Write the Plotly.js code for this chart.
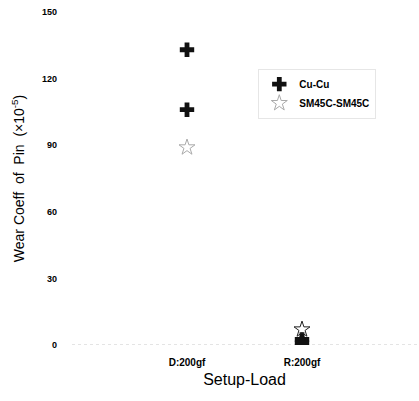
<!DOCTYPE html>
<html><head><meta charset="utf-8">
<script src="https://cdn.plot.ly/plotly-3.0.1.min.js"></script>
<style>body{margin:0;background:#fff}#c{width:419px;height:401px}</style>
</head><body><div id="c"></div>
<script>
const categories = ['D:200gf', 'R:200gf'];
const cuX = ['D:200gf', 'D:200gf', 'R:200gf', 'R:200gf'];
const cuY = [133, 106, 2.5, 1];
const smX = ['D:200gf', 'R:200gf'];
const smY = [89, 7];
const yTicks = [0, 30, 60, 90, 120, 150];

const traces = [
  {x: cuX, y: cuY, type: 'scatter', mode: 'markers', name: 'Cu-Cu',
   marker: {symbol: 'cross', size: 12, color: '#111', line: {width: 0}}},
  {x: smX, y: smY, type: 'scatter', mode: 'markers', name: 'SM45C-SM45C',
   marker: {symbol: 'star-open', size: 12, color: ['#aaa', '#222'], line: {width: 1, color: ['#aaa', '#222']}}}
];

const layout = {
  width: 419, height: 401,
  margin: {l: 72, r: 2, t: 12, b: 56},
  paper_bgcolor: '#fff', plot_bgcolor: '#fff',
  font: {family: 'Liberation Sans, Arial, sans-serif', color: '#000'},
  showlegend: true,
  legend: {x: 0.54, y: 0.83, xanchor: 'left', yanchor: 'top',
    bordercolor: '#e6e6e6', borderwidth: 1, bgcolor: 'rgba(0,0,0,0)',
    font: {size: 10, family: 'Liberation Sans, Arial, sans-serif', weight: 'bold'}},
  xaxis: {type: 'category', categoryarray: categories, range: [-1, 2],
    showgrid: false, zeroline: false, showline: false, ticks: '',
    ticklabelstandoff: 10,
    tickfont: {size: 10, weight: 'bold'}, title: {text: 'Setup-Load', font: {size: 16}, standoff: 6}},
  yaxis: {range: [0, 150], tickvals: yTicks, showgrid: false, zeroline: false, showline: false,
    ticks: '', tickfont: {size: 9, weight: 'bold'}, ticklabelstandoff: 14,
    title: {text: 'Wear Coeff  of  Pin  (×10<sup>-5</sup>)', font: {size: 14}, standoff: 14}},
  shapes: [{type: 'line', xref: 'paper', yref: 'y', x0: 0, x1: 1, y0: 0, y1: 0,
    line: {color: '#c8c8c8', width: 1, dash: 'dot'}, layer: 'below'}]
};
Plotly.newPlot('c', traces, layout, {displayModeBar: false, staticPlot: true});
</script></body></html>
